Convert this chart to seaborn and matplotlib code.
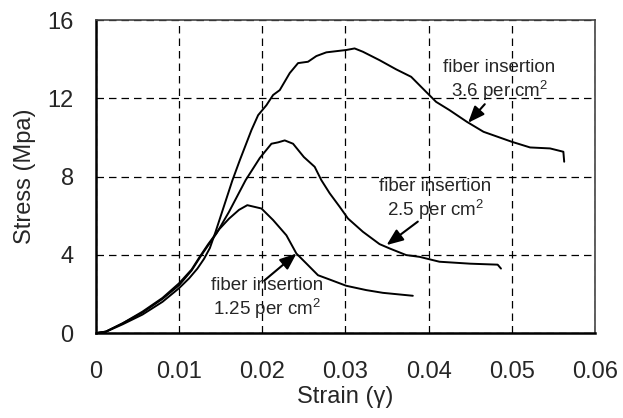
import pandas as pd
import matplotlib.pyplot as plt
import seaborn as sns

# Strain / stress readings for each fiber insertion density
strain_36 = [0, 0.0012, 0.0032, 0.0056, 0.0080, 0.0100, 0.0112, 0.0122, 0.0130, 0.0137,
             0.0144, 0.0154, 0.0164, 0.0173, 0.0187, 0.0195, 0.0205, 0.0213, 0.0221, 0.0233,
             0.0243, 0.0255, 0.0265, 0.0277, 0.0301, 0.0311, 0.0321, 0.0341, 0.0361,
             0.0379, 0.0397, 0.0409, 0.0425, 0.0446, 0.0466, 0.0500, 0.0522, 0.0546,
             0.0562, 0.0563]
stress_36 = [0, 0.07, 0.45, 0.95, 1.6, 2.3, 2.8, 3.3, 3.8, 4.35,
             5.2, 6.5, 7.8, 8.84, 10.38, 11.14, 11.65, 12.17, 12.42, 13.29,
             13.8, 13.87, 14.16, 14.35, 14.47, 14.55, 14.38, 13.95, 13.48,
             13.1, 12.33, 11.82, 11.4, 10.8, 10.29, 9.78, 9.49, 9.44,
             9.27, 8.76]

strain_25 = [0, 0.0012, 0.0032, 0.0056, 0.0080, 0.0100, 0.0115, 0.0127, 0.0145, 0.0160,
             0.0180, 0.0197, 0.0211, 0.0219, 0.0227, 0.0237, 0.0250, 0.0263, 0.0271,
             0.0281, 0.0293, 0.0303, 0.0321, 0.0341, 0.0353, 0.0373, 0.0389, 0.0413,
             0.0450, 0.0483, 0.0487]
stress_25 = [0, 0.08, 0.5, 1.05, 1.75, 2.45, 3.2, 4.0, 5.1, 6.2,
             7.82, 8.95, 9.68, 9.75, 9.85, 9.68, 9.0, 8.5, 7.82,
             7.15, 6.46, 5.86, 5.18, 4.55, 4.33, 3.99, 3.9, 3.65,
             3.55, 3.5, 3.3]

strain_125 = [0, 0.0012, 0.0032, 0.0056, 0.0080, 0.0100, 0.0115, 0.0124, 0.0135, 0.0148,
              0.0160, 0.0172, 0.0182, 0.0199, 0.0213, 0.0229, 0.0241, 0.0253, 0.0267,
              0.0281, 0.0301, 0.0325, 0.0345, 0.0381]
stress_125 = [0, 0.08, 0.5, 1.1, 1.8, 2.55, 3.25, 3.85, 4.55, 5.3,
              5.85, 6.3, 6.54, 6.37, 5.78, 5.0, 4.07, 3.56, 2.96,
              2.74, 2.42, 2.2, 2.06, 1.91]

labels = ["3.6", "2.5", "1.25"]
annot_text = ["fiber insertion\n3.6 per cm$^2$",
              "fiber insertion\n2.5 per cm$^2$",
              "fiber insertion\n1.25 per cm$^2$"]
annot_xy = [(0.0485, 12.9), (0.0408, 6.8), (0.0206, 1.74)]
arrow_tail = [(0.04675, 11.7), (0.0387, 5.7), (0.0203, 2.71)]
arrow_head = [(0.04475, 10.75), (0.03494, 4.5), (0.02412, 4.07)]

sns.set_style("white")
plt.rcParams['font.family'] = ['Liberation Sans', 'DejaVu Sans']
plt.rcParams['mathtext.fontset'] = 'custom'
plt.rcParams['mathtext.rm'] = 'Liberation Sans'

frames = []
for lab, xs, ys in zip(labels, [strain_36, strain_25, strain_125],
                       [stress_36, stress_25, stress_125]):
    frames.append(pd.DataFrame({"strain": xs, "stress": ys, "fiber": lab}))
data = pd.concat(frames, ignore_index=True)

fig = plt.figure(figsize=(6.23, 4.18), dpi=100)
ax = fig.add_axes([0.154, 0.203, 0.801, 0.749])

sns.lineplot(data=data, x="strain", y="stress", units="fiber", estimator=None,
             sort=False, color="black", linewidth=1.4, ax=ax)

ax.set_xlim(0, 0.06)
ax.set_ylim(0, 16)
ax.set_xticks([0, 0.01, 0.02, 0.03, 0.04, 0.05, 0.06])
ax.set_xticklabels(["0", "0.01", "0.02", "0.03", "0.04", "0.05", "0.06"])
ax.set_yticks([0, 4, 8, 12, 16])
ax.tick_params(axis="both", direction="inout", length=12, width=1, color="#555555",
               labelsize=17)
ax.tick_params(axis="x", pad=14)
ax.tick_params(axis="y", pad=10)
ax.grid(True, linestyle=(0, (6, 4)), color="black", linewidth=0.9)

for side in ["left", "bottom"]:
    ax.spines[side].set_color("black")
    ax.spines[side].set_linewidth(1.8)
for side in ["top", "right"]:
    ax.spines[side].set_color("#444444")
    ax.spines[side].set_linewidth(1.2)

ax.set_xlabel("Strain (γ)", fontsize=17, labelpad=2)
ax.set_ylabel("Stress (Mpa)", fontsize=17, labelpad=8)

arrow = dict(arrowstyle="-|>,head_length=0.5,head_width=0.2", color="black", lw=1.5,
             mutation_scale=20, shrinkA=0, shrinkB=0)
for txt, pos, tail, head in zip(annot_text, annot_xy, arrow_tail, arrow_head):
    ax.text(pos[0], pos[1], txt, ha="center", va="center", fontsize=13.5,
            linespacing=1.1)
    ax.annotate("", xy=head, xytext=tail, arrowprops=arrow)

fig.savefig("out.png", dpi=100)
